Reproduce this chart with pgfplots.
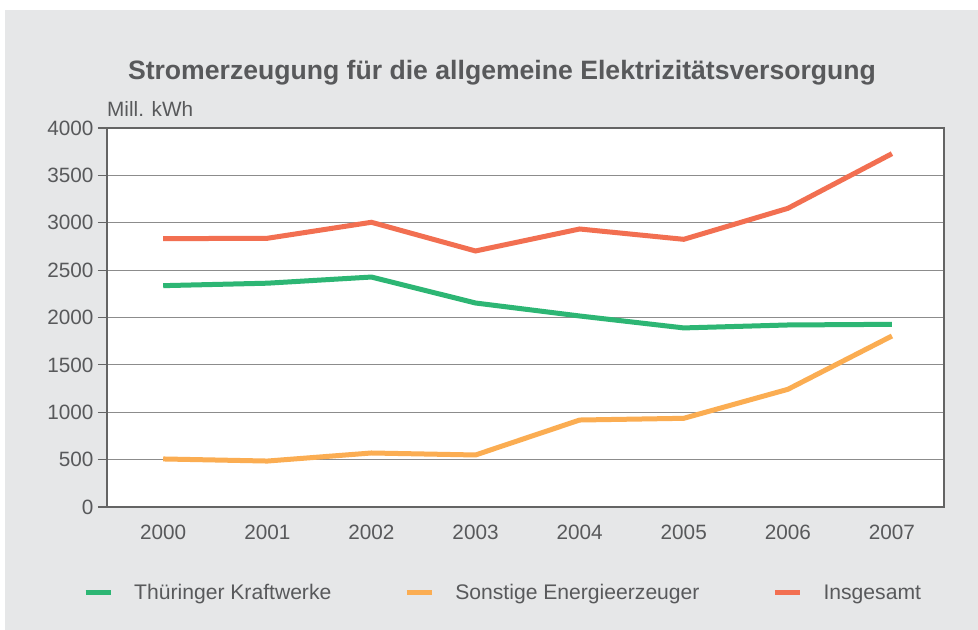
\documentclass[border=0pt]{standalone}
\usepackage{pgfplots}
\pgfplotsset{compat=1.18}
\usepackage{fontspec}
\setmainfont{Liberation Sans}
\definecolor{bggray}{RGB}{230,231,232}
\definecolor{txtgray}{RGB}{88,89,91}
\definecolor{cgreen}{RGB}{45,182,116}
\definecolor{corange}{RGB}{251,173,82}
\definecolor{cred}{RGB}{242,111,81}
\definecolor{axgray}{RGB}{100,100,100}
\definecolor{gridgray}{RGB}{140,140,140}
\begin{document}
\begin{tikzpicture}
\fill[white] (0bp,0bp) rectangle (978bp,630bp);
\fill[bggray] (5bp,0bp) rectangle (978bp,620bp);
\node[font=\fontsize{26.7}{30}\selectfont\bfseries, text=txtgray] at (502bp,557bp) {Stromerzeugung für die allgemeine Elektrizitätsversorgung};
\node[anchor=base west, inner sep=0pt, font=\fontsize{20.8}{24}\selectfont, text=txtgray] at (107bp,513bp) {Mill. kWh};
\begin{axis}[
  at={(107bp,123bp)}, anchor=south west,
  scale only axis, width=837bp, height=379bp,
  xmin=-0.54, xmax=7.5, ymin=0, ymax=4000,
  axis background/.style={fill=white},
  axis line style={draw=axgray, line width=1.8bp},
  xtick={0,...,7},
  xticklabels={2000,2001,2002,2003,2004,2005,2006,2007},
  ytick={0,500,...,4000},
  ymajorgrids,
  grid style={draw=gridgray, line width=1.2bp},
  x tick style={draw=none},
  y tick style={draw=axgray, line width=1.2bp},
  major tick length=9bp,
  tick align=outside,
  ytick pos=left,
  xtick pos=bottom,
  tick label style={font=\fontsize{20.8}{24}\selectfont, text=txtgray},
  yticklabel style={xshift=-1bp},
  xticklabel style={yshift=-6bp},
  /pgf/number format/assume math mode=true,
  /pgf/number format/1000 sep={},
  scaled y ticks=false,
  legend columns=3,
  legend image code/.code={\draw[line width=5bp] (0bp,0bp) -- (25bp,0bp);},
  legend style={at={(-0.0287,-0.2269)}, anchor=west, draw=none, fill=none,
    font=\fontsize{21.2}{24}\selectfont, text=txtgray, inner sep=0pt,
    /tikz/every odd column/.append style={column sep=19bp},
    /tikz/every even column/.append style={column sep=71bp}},
  legend cell align=left,
]
\addplot[cgreen, line width=5bp] coordinates {(0,2336) (1,2362) (2,2427) (3,2153) (4,2016) (5,1890) (6,1921) (7,1928)};
\addlegendentry{Thüringer Kraftwerke}
\addplot[corange, line width=5bp] coordinates {(0,507) (1,485) (2,570) (3,549) (4,918) (5,936) (6,1242) (7,1805)};
\addlegendentry{Sonstige Energieerzeuger}
\addplot[cred, line width=5bp] coordinates {(0,2832) (1,2836) (2,3005) (3,2702) (4,2934) (5,2825) (6,3152) (7,3729)};
\addlegendentry{Insgesamt}
\end{axis}
\end{tikzpicture}
\end{document}
